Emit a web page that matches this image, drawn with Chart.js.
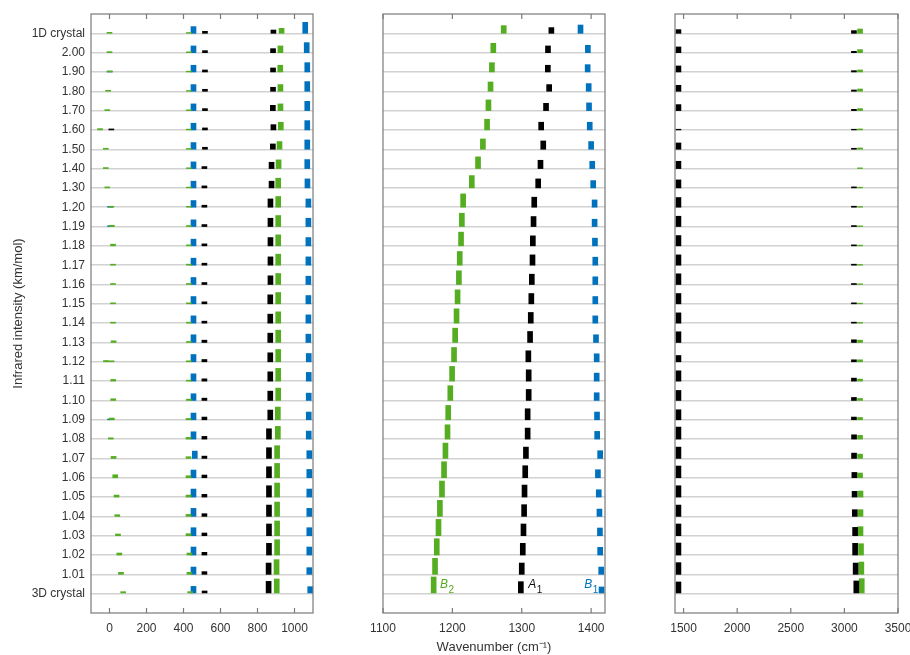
<!DOCTYPE html>
<html><head><meta charset="utf-8">
<script src="https://cdn.jsdelivr.net/npm/chart.js@4"></script>
<style>
html,body{margin:0;padding:0;background:#fff;overflow:hidden;width:910px;height:655px;}
#wrap{position:relative;width:910px;height:655px;overflow:hidden;}
canvas{position:absolute;top:0;}
</style></head><body><div id="wrap">
<canvas id="c1" style="left:0px;width:330px;height:655px" width="330" height="655"></canvas>
<canvas id="c2" style="left:330px;width:300px;height:655px" width="300" height="655"></canvas>
<canvas id="c3" style="left:630px;width:300px;height:655px" width="300" height="655"></canvas>
</div>
<script>
// ---------------- DATA ----------------
const rowLabels = ['3D crystal','1.01','1.02','1.03','1.04','1.05','1.06','1.07','1.08','1.09','1.10','1.11','1.12','1.13','1.14','1.15','1.16','1.17','1.18','1.19','1.20','1.30','1.40','1.50','1.60','1.70','1.80','1.90','2.00','1D crystal'];

const ticks1 = [0,200,400,600,800,1000];
const ticks2 = [1100,1200,1300,1400];
const ticks3 = [1500,2000,2500,3000,3500];

// Panel 1 (-100 .. 1100 cm-1)
const lowGreenFreq = [74,62,53,46,42,38,31,22,7,13,20,20,11,22,19,19,19,19,19,13,10,-12,-20,-20,-51,-12,-7,2,0,0];
const lowGreenInt  = [2,2,2,1.7,1.7,2,3,2,1.3,1.7,1.7,1.7,1,1.7,1,1,1,1,1.7,1.3,1,1,1,1,1.3,1,1,1,1,1];
const green425Freq = [436,432,432,427,427,427,427,427,427,427,429,429,429,429,429,429,429,429,429,429,429,429,429,429,429,429,429,429,429,429];
const green425Int  = [2,2,2,2,2,2,2,1.7,1.7,1.3,1.3,1,1,1,1,1,1,1,1,1,0.8,0.8,0.8,0.8,0.8,0.8,0.8,0.8,0.8,0.8];
const blue454Freq  = [454,454,454,454,454,454,454,461,454,454,454,454,454,454,454,454,454,454,454,454,454,454,454,454,454,454,454,454,454,454];
const blue454Int   = [7.3,7.3,8,8,8,8,7.7,7.3,7.3,6.7,6.7,7.3,7.3,7.7,7.3,7.3,7,7,6.7,6.7,6.7,6.7,6.7,6.7,6.7,6.7,6.7,6.7,6.7,6.7];
const black513Freq = [514,513,513,513,513,513,513,513,513,513,513,513,513,513,513,513,513,513,513,513,513,513,513,516,516,516,516,516,516,516];
const black513Int  = [2.7,2.7,2.7,2.7,2.7,2.7,2.7,2.3,2.7,2.7,2.3,2.3,2.3,2.3,2,2,2,2,2,2,2,2,2,2,2,2,2,2,2,2];
const black870Freq = [860,860,862,862,862,862,862,862,862,869,869,869,869,869,869,869,870,870,870,870,870,876,876,883,886,883,884,884,884,886];
const black870Int  = [12.3,11.3,11.7,11.7,11.3,11.3,11,10.7,10.3,9.7,9.3,9.3,9,9.3,9,9,8.7,8.3,8.3,8.3,8.3,6.7,6.3,5.3,5.3,5.3,4,4,4,3.3];
const green910Freq = [904,903,906,906,906,906,906,906,910,910,912,912,912,912,912,912,912,912,912,912,912,912,914,919,926,924,924,923,924,930];
const green910Int  = [14.7,14.7,15.3,14.7,14.3,14,14.3,12.7,12.7,12.7,12.3,12.7,12.3,12.3,11.3,11.3,11,11,11,11,10.7,9.7,8.7,7.7,7.7,6.7,6.7,6.7,6.7,5];
const blue1070Freq = [1085,1080,1080,1080,1080,1080,1080,1080,1077,1077,1077,1077,1077,1075,1075,1075,1075,1075,1075,1075,1075,1070,1069,1069,1069,1069,1069,1069,1066,1058];
const blue1070Int  = [7,6.7,8,8,8,8,8.3,7.7,8,7.7,7.3,8.7,8.3,8.3,8.3,8.3,8.3,8.3,8.3,8.3,8.3,9,9,9.3,9.3,9.3,9.7,9.3,10,11];
// small extra peaks in panel 1: [row, frequency, intensity]
const extraGreen1 = [[12,-19,1.3]];
const extraBlack1 = [[24,10,1]];
const extraBlue1  = [[27,0,0.8],[20,3,0.8],[19,3,0.8],[9,3,0.8]];

// Panel 2 (1100 .. 1420 cm-1)
const b2Freq = [1173,1175,1177.5,1180,1182,1185,1188,1190,1193,1194,1197,1199.6,1202.4,1204,1206,1207.5,1209.4,1210.6,1212.5,1213.7,1215.5,1228,1237,1244,1250,1252,1255,1257,1259,1274];
const b2Int  = [16.7,16,16.3,16.3,16,16,16,15.3,14.3,14.3,14.7,14.7,14.3,14.3,14.3,14,13.7,13.7,13.7,13.3,13.3,12.3,11.7,10.3,10.7,10.7,9.3,9.3,9.3,7.7];
const a1Freq = [1298.7,1300,1301.5,1302.5,1303.4,1304,1305,1306,1308.5,1308.5,1310,1310,1309.5,1312,1313,1313.8,1314.5,1315.5,1316,1317,1318,1323.7,1327,1331,1328,1335,1339.5,1337.6,1337.8,1342.7];
const a1Int  = [12,11.3,11.7,11.7,11.7,12,12,11.3,11,11,11,11.3,11,11,10.7,10.3,10.3,10.3,10,10,10,9,8.3,8.3,7.7,7.3,6.7,6.7,6.7,5.7];
const b1Freq = [1415,1414.5,1413,1412.7,1412,1411,1409.8,1413,1408.7,1408.5,1408,1408,1408,1407,1406,1406,1406,1406,1405.5,1405,1405,1403,1401.6,1400,1398,1397,1396.5,1395,1395.3,1384.7];
const b1Int  = [6.7,7.3,7.7,7.7,7.3,7.3,8,7.7,7.7,7.7,7.7,8,8,7.7,7.3,7.3,7.7,8,7.7,7.3,7.3,7.3,7.3,7.7,7.7,7.7,7.7,7.3,7.3,8.3];

// Panel 3 (1420 .. 3500 cm-1)
const black1450Freq = [1452,1452,1452,1452,1452,1452,1452,1452,1452,1452,1452,1452,1452,1452,1452,1452,1452,1452,1452,1452,1452,1452,1452,1452,1452,1452,1452,1452,1452,1452];
const black1450Int  = [11.7,11.7,12,11.7,11.3,11.3,11.7,11.3,12,10,10,10.3,6.3,10.7,10.3,10.3,10.7,10.3,10.3,10.3,9.7,8,7.3,6.3,0.7,6,6,6,5.7,3.7];
const black3090Freq = [3111,3105,3100,3100,3097,3095,3093,3090,3090,3089,3089,3089,3089,3089,3089,3089,3089,3089,3089,3089,3089,3089,3089,3089,3089,3089,3089,3089,3089,3089];
const black3090Int  = [12.7,11.3,11.7,8.3,6.7,5.7,5.3,5.3,4.3,2.7,3,3,2,2.7,1,1,1,1,1,1,1,1,0,1,0.7,1.3,1.3,1.3,1.3,2.7];
const green3150Freq = [3162,3158,3155,3150,3150,3150,3146,3146,3146,3146,3146,3146,3146,3146,3146,3146,3146,3146,3146,3146,3146,3146,3146,3146,3146,3146,3146,3146,3146,3146];
const green3150Int  = [15,12.3,11.3,9,6.7,6,4.7,4.3,3.7,2.3,2,2,2,2.3,0.7,0.7,0.7,0.7,0.7,0.7,0.7,0.7,0.7,1.3,1,2,2.3,2,3,4.3];

// mode labels in panel 2: [letter, subscript, frequency]
const modeLabels = [['B','2',1182,'green'],['A','1',1309.5,'black'],['B','1',1390,'blue']];

// ---------------- STYLE ----------------
const COLORS = {green:'#55ad22', black:'#000000', blue:'#0072bd'};
const TEXT = '#333333';
const FRAME = '#7a7a7a';
const GRID = '#d2d2d2';
const ROW_UNITS = 19.3; // intensity units per row spacing
Chart.defaults.font.family = '"Liberation Sans", Arial, Helvetica, sans-serif';
Chart.defaults.font.size = 12;
Chart.defaults.color = TEXT;

function series(freq, inten, color){
  const data = [];
  freq.forEach((f,i)=>{ if(inten[i]>0) data.push({x:f, y:[i, i + inten[i]/ROW_UNITS]}); });
  return {data, backgroundColor:COLORS[color], barThickness:5, grouped:false, borderWidth:0};
}
function extra(list, color){
  return {data:list.map(([r,f,h])=>({x:f, y:[r, r + h/ROW_UNITS]})), backgroundColor:COLORS[color], barThickness:5, grouped:false, borderWidth:0};
}

const framePlugin = {
  id:'frame',
  afterDraw(chart){
    const {ctx, chartArea:a} = chart; const x = chart.scales.x;
    ctx.save();
    ctx.strokeStyle = FRAME; ctx.lineWidth = 1.2;
    ctx.strokeRect(a.left, a.top, a.right-a.left, a.bottom-a.top);
    ctx.beginPath();
    x.ticks.forEach(t=>{
      const px = x.getPixelForValue(t.value);
      ctx.moveTo(px, a.bottom); ctx.lineTo(px, a.bottom-5);
      ctx.moveTo(px, a.top); ctx.lineTo(px, a.top+5);
    });
    ctx.stroke();
    ctx.restore();
  }
};
const labelPlugin = {
  id:'modeLabels',
  afterDatasetsDraw(chart){
    if(!chart.options.plugins.modeLabels || !chart.options.plugins.modeLabels.show) return;
    const {ctx} = chart; const x = chart.scales.x, y = chart.scales.y;
    ctx.save();
    modeLabels.forEach(([m,s,f,c])=>{
      const px = x.getPixelForValue(f);
      const py = y.getPixelForValue(0.31);
      ctx.fillStyle = COLORS[c] === '#000000' ? '#111' : COLORS[c];
      ctx.font = 'italic 12px "Liberation Sans", Arial, sans-serif';
      ctx.textBaseline = 'alphabetic'; ctx.textAlign = 'left';
      ctx.fillText(m, px, py);
      const w = ctx.measureText(m).width;
      ctx.font = '10px "Liberation Sans", Arial, sans-serif';
      ctx.fillText(s, px + w + 0.5, py + 5);
    });
    ctx.restore();
  }
};

function makeChart(id, datasets, xmin, xmax, xticks, opts){
  return new Chart(document.getElementById(id), {
    type:'bar',
    data:{datasets},
    plugins:[framePlugin, labelPlugin],
    options:{
      responsive:false, animation:false,
      layout:{padding:{left:opts.padL, right:opts.padR, top:14, bottom:0}},
      plugins:{legend:{display:false}, tooltip:{enabled:false}, modeLabels:{show:!!opts.labels}},
      scales:{
        x:{type:'linear', min:xmin, max:xmax, offset:false,
           grid:{display:false, offset:false, drawTicks:false}, border:{display:false},
           afterBuildTicks:s=>{ s.ticks = xticks.map(v=>({value:v})); },
           afterFit:s=>{ s.height = 42; },
           ticks:{padding:8, color:TEXT, font:{size:12}, maxRotation:0, autoSkip:false,
                  callback:(v)=>String(v)},
           title:{display:!!opts.xTitle, text:opts.xTitle||'', color:TEXT, font:{size:13}, padding:{top:0,bottom:0}}
        },
        y:{type:'linear', min:-1, max:30,
           grid:{color:GRID, lineWidth:1.5, drawTicks:false}, border:{display:false},
           afterBuildTicks:s=>{ s.ticks = rowLabels.map((_,i)=>({value:i})); },
           afterFit:s=>{ s.width = opts.yWidth; },
           ticks:{display:!!opts.yLabels, padding:6, color:TEXT, font:{size:12}, autoSkip:false,
                  callback:(v)=>rowLabels[v]},
           title:{display:!!opts.yTitle, text:opts.yTitle||'', color:TEXT, font:{size:13}, padding:{top:11,bottom:0}}
        }
      }
    }
  });
}

makeChart('c1', [
  series(green425Freq, green425Int, 'green'),
  series(lowGreenFreq, lowGreenInt, 'green'),
  extra(extraGreen1, 'green'),
  extra(extraBlue1, 'blue'),
  extra(extraBlack1, 'black'),
  series(blue454Freq, blue454Int, 'blue'),
  series(black513Freq, black513Int, 'black'),
  series(black870Freq, black870Int, 'black'),
  series(green910Freq, green910Int, 'green'),
  series(blue1070Freq, blue1070Int, 'blue')
], -100, 1100, ticks1, {padL:0, padR:17, yWidth:91, yLabels:true, yTitle:'Infrared intensity (km/mol)'});

makeChart('c2', [
  series(b2Freq, b2Int, 'green'),
  series(a1Freq, a1Int, 'black'),
  series(b1Freq, b1Int, 'blue')
], 1100, 1420, ticks2, {padL:53, padR:25, yWidth:0, labels:true, xTitle:'Wavenumber (cm\u207B\u00B9)'});

makeChart('c3', [
  series(black1450Freq, black1450Int, 'black'),
  series(black3090Freq, black3090Int, 'black'),
  series(green3150Freq, green3150Int, 'green')
], 1420, 3500, ticks3, {padL:45, padR:32, yWidth:0});
</script>
</body></html>
